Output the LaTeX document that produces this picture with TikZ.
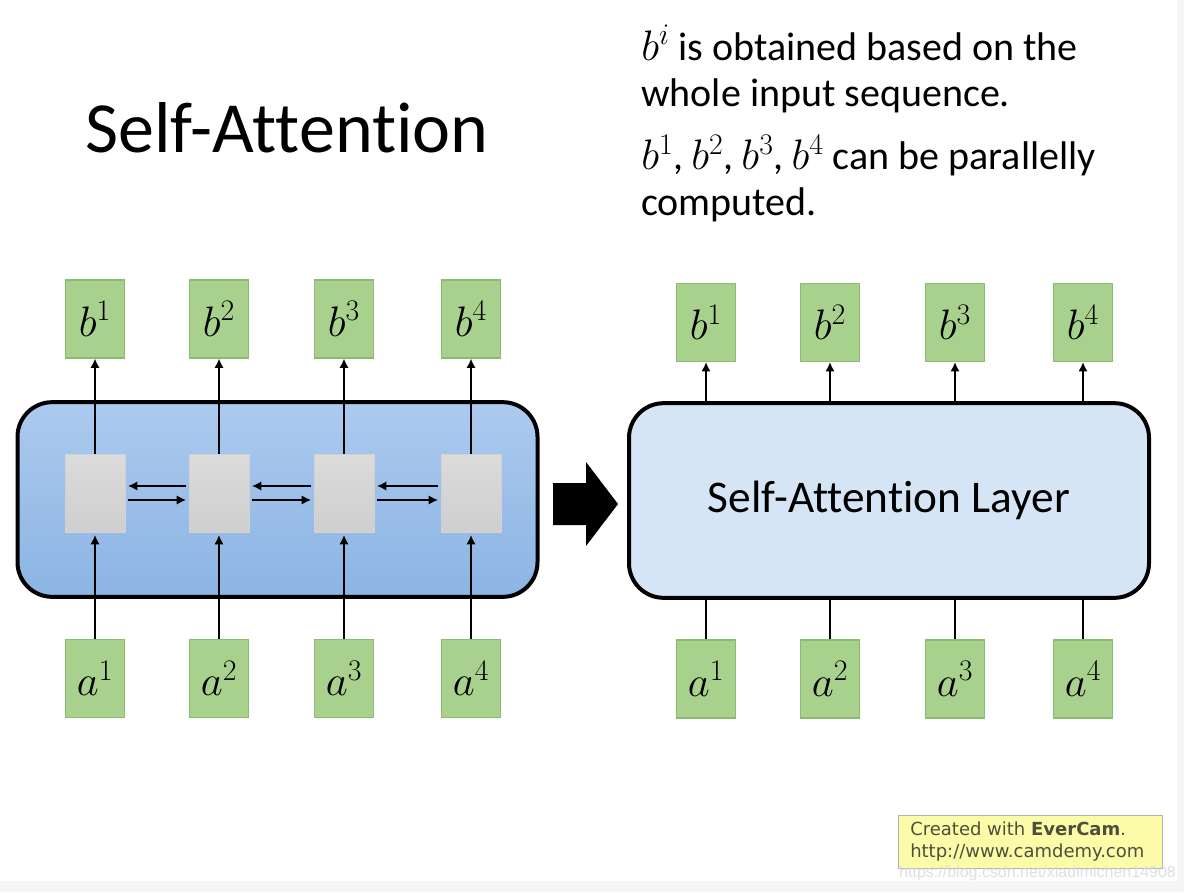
\documentclass[tikz,border=0pt]{standalone}
\usepackage{fix-cm}
\usepackage{fontspec}
\setmainfont{Carlito}[Ligatures=CommonOff]
\newfontfamily\stampfont{DejaVu Sans}
\newfontfamily\urlfont{Liberation Sans}
\usetikzlibrary{arrows.meta}
\tikzset{>={Latex[length=7pt,width=7pt]}}
\definecolor{boxgreen}{RGB}{169,209,142}
\definecolor{greenline}{RGB}{140,186,112}
\definecolor{encTop}{RGB}{172,202,238}
\definecolor{encBottom}{RGB}{140,180,228}
\definecolor{layerblue}{RGB}{214,229,245}
\definecolor{stampyellow}{RGB}{252,252,168}
\definecolor{stampink}{RGB}{78,78,62}
\newcommand{\notemath}[1]{{\fontsize{32}{34}\selectfont$#1$}}

\begin{document}
\begin{tikzpicture}[x=0.75pt,y=-0.75pt,
  vec/.style={draw=greenline, fill=boxgreen, line width=0.8pt, inner sep=0pt,
    minimum width=44pt, minimum height=58.5pt, font=\fontsize{32}{34}\selectfont},
  cell/.style={draw=gray!35, top color=gray!28, bottom color=gray!38, inner sep=0pt,
    minimum width=45pt, minimum height=58.5pt},
  panel/.style={draw=black, line width=3pt, rounded corners=26pt, inner sep=0pt,
    minimum width=390pt, minimum height=146pt},
  link/.style={->, line width=2pt},
  feed/.style={line width=2pt}
]
   \useasboundingbox (0,0) rectangle (1184,892);
   \fill[white] (0,0) rectangle (1184,892);
   \fill[gray!8] (0,881) rectangle (1184,892);
   \fill[gray!8] (1177,0) rectangle (1184,892);

   % title and notes
   \node (title) at (287,128) {\fontsize{54}{60}\selectfont Self-Attention};
   \node[anchor=north west, inner sep=0pt, align=left,
     font=\fontsize{30}{34.5}\selectfont] (note) at (641,25)
     {\notemath{b^i} is obtained based on the\\whole input sequence.\\[13pt]
      \notemath{b^1},\hspace{6pt}\notemath{b^2},\hspace{6pt}\notemath{b^3},\hspace{6pt}\notemath{b^4}
      can be parallelly\\computed.};

   % left: recurrent block
   \node[panel, top color=encTop, bottom color=encBottom] (enc) at (277.5,499.5) {};
   \foreach \i/\x in {1/95,2/219,3/344,4/471}{
      \node[vec] (b\i) at (\x,319) {$b^\i$};
      \node[vec] (a\i) at (\x,678.5) {$a^\i$};
      \node[cell] (g\i) at (\x,493) {};
      \draw[link] (g\i) -- (b\i);
      \draw[link, shorten >=2pt] (a\i) -- (g\i);
   }
   \foreach \i/\j in {1/2,2/3,3/4}{
      \draw[link, shorten <=2pt, shorten >=2pt] ([yshift=-5.25pt]g\i.east) -- ([yshift=-5.25pt]g\j.west);
      \draw[link, shorten <=2pt, shorten >=2pt] ([yshift=5.25pt]g\j.west) -- ([yshift=5.25pt]g\i.east);
   }

   % big arrow
   \fill[black] (553,483) -- (586,483) -- (586,462) -- (618,504) -- (586,546)
      -- (586,525) -- (553,525) -- cycle;

   % right: self-attention layer
   \node[panel, fill=layerblue, font=\fontsize{34}{36}\selectfont] (layer) at (889,500.5)
      {Self-Attention Layer};
   \foreach \i/\x in {1/706,2/830,3/955,4/1083}{
      \node[vec] (rb\i) at (\x,322.5) {$b^\i$};
      \node[vec] (ra\i) at (\x,679) {$a^\i$};
      \draw[link] (layer.north -| rb\i) -- (rb\i);
      \draw[feed] (ra\i) -- (layer.south -| ra\i);
   }

   % recorder stamp
   \node[draw=gray!60, fill=stampyellow, line width=0.8pt, minimum width=198pt,
     minimum height=39.75pt, anchor=north west, inner sep=0pt] (stamp) at (898,815) {};
   \node[anchor=west, align=left, inner sep=0pt, text=stampink,
     font=\stampfont\fontsize{13.5}{16.5}\selectfont] (stamptext) at (910,841.5)
     {Created with \textbf{EverCam}.\\http://www.camdemy.com};
   \node[anchor=west, inner sep=0pt, text=gray!25,
     font=\urlfont\fontsize{12}{13}\selectfont] (mark) at (899,873)
     {https://blog.csdn.net/xiadimichen14908};
\end{tikzpicture}
\end{document}
